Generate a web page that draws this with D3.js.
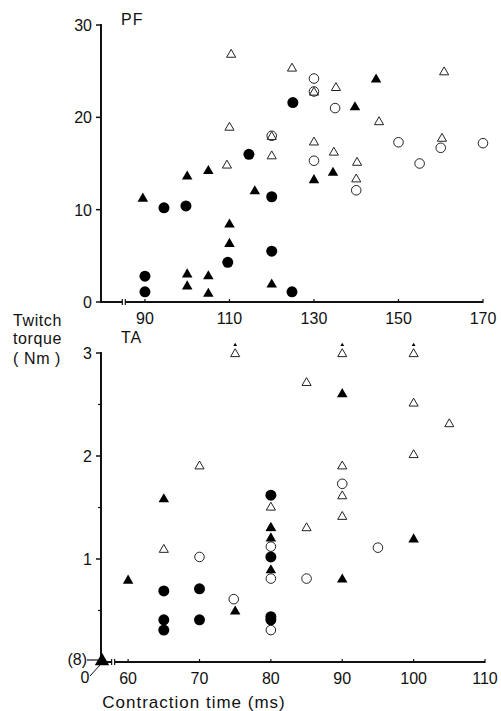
<!DOCTYPE html>
<html>
<head>
<meta charset="utf-8">
<script src="https://cdn.jsdelivr.net/npm/d3@7"></script>
<style>
  body { margin: 0; background: #fff; }
  text { font-family: "Liberation Sans", Arial, sans-serif; fill: #111; }
</style>
</head>
<body>
<div id="chart"></div>
<script>
// PF panel (plantarflexors) : [contraction time ms, twitch torque Nm]
const pfFilledCircle = [[125,21.6],[114.6,16.0],[120,11.4],[94.5,10.2],[99.7,10.4],[90,2.8],[90,1.1],[109.6,4.3],[120,5.5],[124.8,1.1]]
const pfOpenCircle = [[130,24.2],[130,22.8],[120,18],[135,21.0],[130,15.3],[140,12.1],[150,17.3],[155,15.0],[160,16.7],[170,17.2]]
const pfFilledTri = [[89.5,11.3],[100,13.7],[105,14.3],[116,12.1],[110,8.5],[110,6.4],[100,3.1],[100,1.8],[105,2.9],[105,1.0],[120,2.0],[130,13.3],[134.5,14.1],[139.7,21.2],[144.7,24.2]]
const pfOpenTri = [[110.4,26.9],[124.8,25.4],[130,22.8],[135.2,23.3],[160.8,25.0],[110,19.0],[120,18.0],[120,15.9],[109.4,14.9],[145.4,19.6],[130,17.4],[134.7,16.3],[140.2,15.2],[140,13.4],[160.3,17.8]]
const pfXTicks = [90, 110, 130, 150, 170]
const pfYTicks = [0, 10, 20, 30]

// TA panel (tibialis anterior)
const taFilledCircle = [[80,1.62],[80,1.02],[80,0.44],[80,0.41],[65,0.69],[65,0.41],[65,0.31],[70,0.71],[70,0.41]]
const taOpenCircle = [[90,1.73],[80,1.12],[80,0.81],[80,0.31],[95,1.11],[85,0.81],[70,1.02],[74.8,0.61]]
const taFilledTri = [[90,2.61],[65,1.59],[80,1.31],[80,1.21],[80,0.90],[100,1.20],[90,0.81],[60,0.80],[75,0.50]]
const taOpenTri = [[75,3.0],[90,3.0],[100,3.0],[85,2.72],[100,2.52],[105,2.32],[100,2.02],[70,1.91],[90,1.91],[90,1.62],[80,1.51],[90,1.42],[85,1.31],[80,1.31],[65,1.10]]
const taOffScale = [75, 90, 100]   // values above 3 Nm
const taZero = [[56.2, 0]]         // 8 muscles at the origin
const taXTicks = [60, 70, 80, 90, 100, 110]
const taYTicks = [1, 2, 3]
const taYMinor = [0.5, 1.5, 2.5]

const W = 501, H = 711
const svg = d3.select("#chart").append("svg")
    .attr("width", W).attr("height", H)

const triangle = d3.symbol().type(d3.symbolTriangle)
const circle = d3.symbol().type(d3.symbolCircle)

function drawPanel(cfg) {
    const x = d3.scaleLinear().domain(cfg.xDomain).range([101, cfg.xRight])
    const y = d3.scaleLinear().domain(cfg.yDomain).range([cfg.yBottom, cfg.yTop])
    const g = svg.append("g")

    // y axis
    g.append("line")
        .attr("x1", x(cfg.xDomain[0])).attr("x2", x(cfg.xDomain[0]))
        .attr("y1", y(cfg.yDomain[1]) - 1).attr("y2", y(0) + 1)
        .attr("stroke", "#111").attr("stroke-width", 2)
    g.selectAll(".ytick").data(cfg.yTicks).join("line")
        .attr("x1", 96).attr("x2", 101)
        .attr("y1", d => y(d)).attr("y2", d => y(d))
        .attr("stroke", "#111").attr("stroke-width", 1.5)
    g.selectAll(".yminor").data(cfg.yMinor || []).join("line")
        .attr("x1", 98).attr("x2", 101)
        .attr("y1", d => y(d)).attr("y2", d => y(d))
        .attr("stroke", "#111").attr("stroke-width", 1.2)
    g.selectAll(".ylab").data(cfg.yTicks).join("text")
        .attr("x", 92).attr("y", d => y(d) + 6)
        .attr("text-anchor", "end").attr("font-size", 16)
        .text(d => d)

    // x axis with a break next to the origin
    const y0 = y(0)
    const bx = x(cfg.breakAt)
    g.append("line")
        .attr("x1", 100).attr("x2", bx - 1.5)
        .attr("y1", y0).attr("y2", y0)
        .attr("stroke", "#111").attr("stroke-width", 2)
    g.append("line")
        .attr("x1", bx + 1.5).attr("x2", cfg.xRight)
        .attr("y1", y0).attr("y2", y0)
        .attr("stroke", "#111").attr("stroke-width", 2)
    g.selectAll(".brk").data([bx - 1.5, bx + 1.5]).join("line")
        .attr("x1", d => d).attr("x2", d => d)
        .attr("y1", y0 - 3).attr("y2", y0 + 3)
        .attr("stroke", "#111").attr("stroke-width", 1.2)
    g.selectAll(".xtick").data(cfg.xTicks).join("line")
        .attr("x1", d => x(d)).attr("x2", d => x(d))
        .attr("y1", y0 - 3).attr("y2", y0 + 1)
        .attr("stroke", "#111").attr("stroke-width", 1.2)
    g.selectAll(".xlab").data(cfg.xTicks).join("text")
        .attr("x", d => x(d)).attr("y", y0 + 22)
        .attr("text-anchor", "middle").attr("font-size", 16)
        .text(d => d)

    // panel title
    g.append("text").attr("x", 121).attr("y", cfg.titleY)
        .attr("font-size", 16).attr("letter-spacing", 1).text(cfg.title)

    // marks
    const pos = d => `translate(${x(d[0])},${y(d[1])})`
    const triPos = d => `translate(${x(d[0])},${y(d[1]) + 1})`
    g.selectAll(".oc").data(cfg.openCircle).join("path")
        .attr("d", circle.size(72)).attr("transform", pos)
        .attr("fill", "none").attr("stroke", "#222").attr("stroke-width", 1)
    g.selectAll(".ot").data(cfg.openTri).join("path")
        .attr("d", triangle.size(36)).attr("transform", triPos)
        .attr("fill", "none").attr("stroke", "#222").attr("stroke-width", 1)
    g.selectAll(".fc").data(cfg.filledCircle).join("path")
        .attr("d", circle.size(95)).attr("transform", pos)
        .attr("fill", "#000")
    g.selectAll(".ft").data(cfg.filledTri).join("path")
        .attr("d", triangle.size(48)).attr("transform", triPos)
        .attr("fill", "#000")
    return { x, y, g }
}

drawPanel({
    title: "PF", titleY: 25,
    xDomain: [79.6, 170], xRight: 483, breakAt: 85,
    yDomain: [0, 30], yTop: 25, yBottom: 302,
    xTicks: pfXTicks, yTicks: pfYTicks,
    filledCircle: pfFilledCircle, openCircle: pfOpenCircle,
    filledTri: pfFilledTri, openTri: pfOpenTri
})

const ta = drawPanel({
    title: "TA", titleY: 343,
    xDomain: [56.2, 110], xRight: 485, breakAt: 57.9,
    yDomain: [0, 3], yTop: 353, yBottom: 662,
    xTicks: taXTicks, yTicks: taYTicks, yMinor: taYMinor,
    filledCircle: taFilledCircle, openCircle: taOpenCircle,
    filledTri: taFilledTri, openTri: taOpenTri
})

// small arrows for values above the TA scale
ta.g.selectAll(".off").data(taOffScale).join("path")
    .attr("d", triangle.size(6))
    .attr("transform", d => `translate(${ta.x(d)},${ta.y(3) - 8})`)
    .attr("fill", "#000")

// origin: 8 muscles with zero torque
ta.g.selectAll(".zero").data(taZero).join("path")
    .attr("d", triangle.size(90))
    .attr("transform", d => `translate(${ta.x(d[0]) + 1},${ta.y(d[1]) - 1})`)
    .attr("fill", "#000")
ta.g.append("line")
    .attr("x1", 87).attr("x2", 98).attr("y1", ta.y(0) - 2).attr("y2", ta.y(0) - 2)
    .attr("stroke", "#111").attr("stroke-width", 1.2)
ta.g.append("text").attr("x", 87).attr("y", ta.y(0) + 3)
    .attr("text-anchor", "end").attr("font-size", 16).text("(8)")
ta.g.append("line")
    .attr("x1", 90).attr("y1", ta.y(0) + 14).attr("x2", 100).attr("y2", ta.y(0) + 3)
    .attr("stroke", "#111").attr("stroke-width", 1)
ta.g.append("text").attr("x", 85).attr("y", ta.y(0) + 21)
    .attr("text-anchor", "middle").attr("font-size", 16).text("0")

// shared axis titles
const yTitle = svg.append("text").attr("font-size", 16).attr("letter-spacing", 0.6)
yTitle.append("tspan").attr("x", 13).attr("y", 326).text("Twitch")
yTitle.append("tspan").attr("x", 13).attr("y", 344).text("torque")
yTitle.append("tspan").attr("x", 13).attr("y", 364).text("( Nm )")

svg.append("text")
    .attr("x", 194).attr("y", 708)
    .attr("text-anchor", "middle").attr("font-size", 17).attr("letter-spacing", 1)
    .text("Contraction time (ms)")
</script>
</body>
</html>
